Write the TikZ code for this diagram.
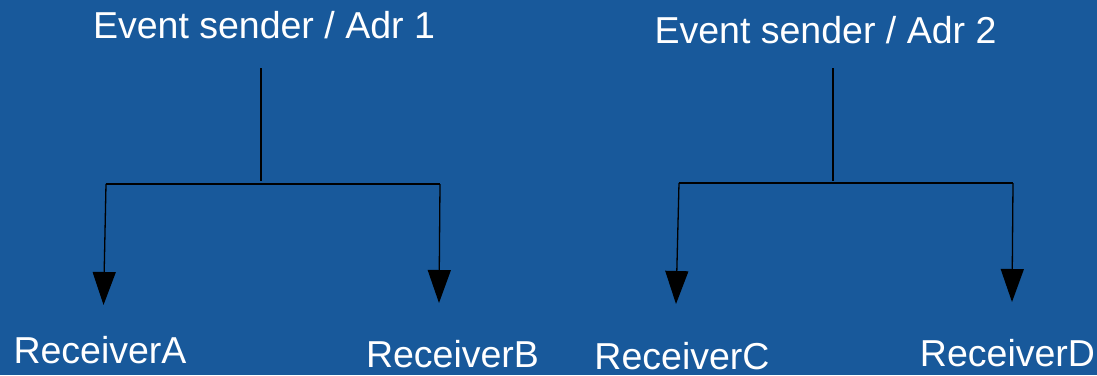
\documentclass[tikz,border=0pt]{standalone}
\usepackage{fontspec}
\setmainfont{Liberation Sans}
\usetikzlibrary{arrows.meta}
\definecolor{bg}{RGB}{24,89,155}
\begin{document}
\begin{tikzpicture}[x=1pt,y=-1pt,
  lbl/.style={text=white,font=\fontsize{37.5}{40}\selectfont,inner sep=0pt,anchor=base},
  wire/.style={line width=1.3pt,draw=black},
  arr/.style={wire,-{Triangle[length=33pt,width=23pt]}}]
\fill[bg] (0,0) rectangle (1097,375);
\useasboundingbox (0,0) rectangle (1097,375);
% senders
\node[lbl] (s1) at (264,38) {Event sender / Adr 1};
\node[lbl] (s2) at (825.5,43) {Event sender / Adr 2};
% receivers
\node[lbl] (rA) at (100,363) {ReceiverA};
\node[lbl] (rB) at (452.5,367) {ReceiverB};
\node[lbl] (rC) at (682,369) {ReceiverC};
\node[lbl] (rD) at (1007.5,366) {ReceiverD};
% coordinates
\coordinate (s1o) at (261,68);
\coordinate (j1) at (261,181);
\coordinate (h1l) at (106,184);
\coordinate (h1r) at (440,184);
\coordinate (tA) at (103.5,305);
\coordinate (tB) at (439,303);
\coordinate (s2o) at (833,68);
\coordinate (j2) at (833,181);
\coordinate (h2l) at (679,183);
\coordinate (h2r) at (1013,183);
\coordinate (tC) at (676,304);
\coordinate (tD) at (1012,302);
% group 1
\draw[wire] (s1o) -- (j1);
\draw[wire] (h1l) -- (h1r);
\draw[arr] (h1l) -- (tA);
\draw[arr] (h1r) -- (tB);
% group 2
\draw[wire] (s2o) -- (j2);
\draw[wire] (h2l) -- (h2r);
\draw[arr] (h2l) -- (tC);
\draw[arr] (h2r) -- (tD);
\end{tikzpicture}
\end{document}
